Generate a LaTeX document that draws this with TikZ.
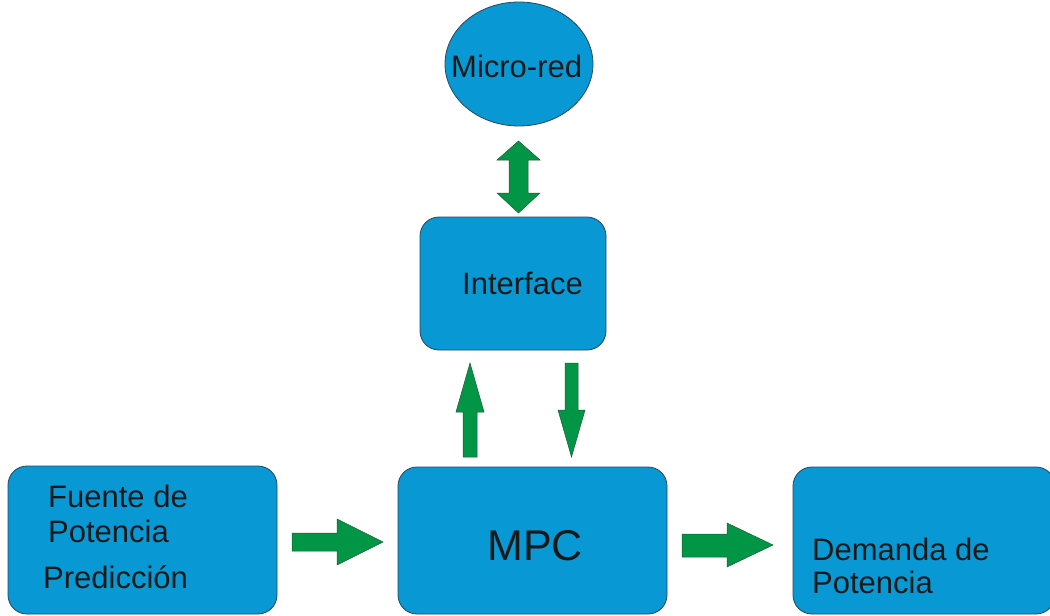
\documentclass[tikz,border=0pt]{standalone}
\usepackage{fontspec}
\setmainfont{Liberation Sans}
\usetikzlibrary{shapes.geometric}
\definecolor{boxblue}{RGB}{8,153,212}
\definecolor{boxline}{RGB}{40,70,90}
\definecolor{arrgreen}{RGB}{0,150,70}
\definecolor{arrline}{RGB}{30,90,50}
\tikzset{
  box/.style={draw=boxline, fill=boxblue, line width=0.8pt, rounded corners=19pt, inner sep=0pt},
  oval/.style={ellipse, draw=boxline, fill=boxblue, line width=0.8pt, inner sep=0pt},
  blockarrow/.style={draw=arrline, fill=arrgreen, line width=0.5pt, line join=miter},
  lbl/.style={anchor=base west, inner sep=0pt, text=black!90, font=\fontsize{31}{37}\selectfont},
  biglbl/.style={anchor=base west, inner sep=0pt, text=black!90, font=\fontsize{43}{50}\selectfont}
}
\begin{document}
\begin{tikzpicture}[x=1pt, y=-1pt]
\useasboundingbox (0,0) rectangle (1050,616);
\clip (0,0) rectangle (1050,616);
% shapes
\node[oval, minimum width=148pt, minimum height=124pt] (micro) at (519,64) {};
\node[box, minimum width=186pt, minimum height=133pt] (iface) at (513,283.5) {};
\node[box, minimum width=269pt, minimum height=148pt] (fuente) at (142.5,540) {};
\node[box, minimum width=269pt, minimum height=147pt] (mpc) at (532.5,540.5) {};
\node[box, minimum width=262pt, minimum height=147pt] (demanda) at (924,540.5) {};
% texts
\node[lbl] (tmicro) at (451,77) {Micro-red};
\node[lbl] (tiface) at (462,294) {Interface};
\node[biglbl] (tmpc) at (487,560) {MPC};
\node[lbl] (tf1) at (48,507) {Fuente de};
\node[lbl] (tf2) at (48,542) {Potencia};
\node[lbl] (tf3) at (43,588) {Predicción};
\node[lbl] (td1) at (812,560) {Demanda de};
\node[lbl] (td2) at (812,593) {Potencia};
% block arrows
\draw[blockarrow] (518.5,141) -- (540,160) -- (528,160) -- (528,193) -- (540,193) -- (518.5,213) -- (497,193) -- (509,193) -- (509,160) -- (497,160) -- cycle;
\draw[blockarrow] (470,363) -- (484,412) -- (477,412) -- (477,457) -- (463,457) -- (463,412) -- (456,412) -- cycle;
\draw[blockarrow] (565,363) -- (578,363) -- (578,410) -- (585,410) -- (571.5,457) -- (558,410) -- (565,410) -- cycle;
\draw[blockarrow] (292,533) -- (337,533) -- (337,519) -- (383,542) -- (337,565) -- (337,551) -- (292,551) -- cycle;
\draw[blockarrow] (682,534) -- (727,534) -- (727,523) -- (773,545) -- (727,567) -- (727,557) -- (682,557) -- cycle;
\end{tikzpicture}
\end{document}
